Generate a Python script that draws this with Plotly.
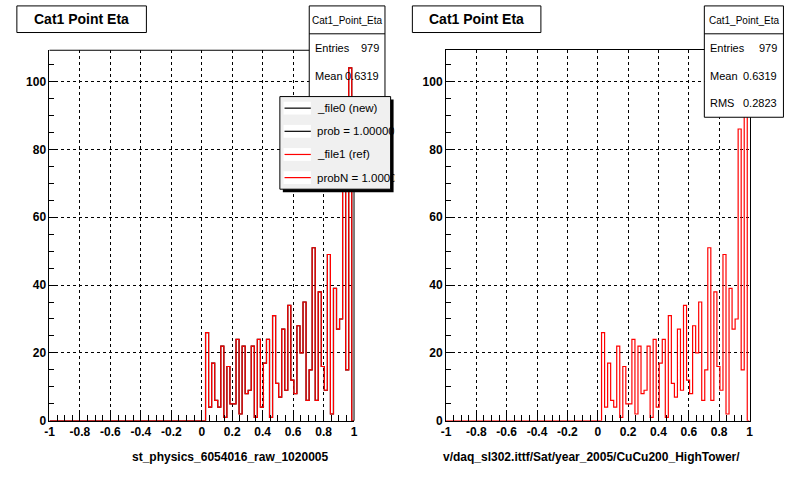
import plotly.graph_objects as go

W, H = 800, 480

# ---------------- data ----------------
bin_low = 0.025
bin_width = 0.02
counts = [26, 4, 17, 6, 4, 22, 1, 16, 5, 5, 24, 2, 22, 8, 9, 22, 1, 24, 4, 17,
          24, 1, 31, 11, 7, 27, 9, 34, 12, 8, 28, 20, 35, 6, 15, 51, 6, 38, 16, 9,
          49, 2, 39, 27, 30, 86, 15, 104]
x_ticks = [-1, -0.8, -0.6, -0.4, -0.2, 0, 0.2, 0.4, 0.6, 0.8, 1]
x_tick_labels = ["-1", "-0.8", "-0.6", "-0.4", "-0.2", "0", "0.2", "0.4", "0.6", "0.8", "1"]
y_ticks = [0, 20, 40, 60, 80, 100]
y_tick_labels = ["0", "20", "40", "60", "80", "100"]
panel_title = "Cat1 Point Eta"
hist_name = "Cat1_Point_Eta"
stat_labels = ["Entries", "Mean", "RMS"]
stat_values = ["979", "0.6319", "0.2823"]
legend_labels = ["_file0 (new)", "prob = 1.000000", "_file1 (ref)", "probN = 1.000000"]
legend_colors = ["black", "black", "red", "red"]
x_titles = ["st_physics_6054016_raw_1020005",
            "v/daq_sl302.ittf/Sat/year_2005/CuCu200_HighTower/"]

# ---------------- derived ----------------
edges = [bin_low + i * bin_width for i in range(len(counts) + 1)]
xs = [-1] + edges + [1]
ys = [0] + counts + [0, 0]
ymax = max(counts) * 1.05

# frame pixel geometry
FL = (45, 353)
FR = (446, 753)
FT, FB = 51, 427


def px(x):
    return x / W


def py(y):
    return 1 - y / H


def xdata(p, frame):
    return -1 + 2 * (p - frame[0]) / (frame[1] - frame[0])


def ydata(p):
    return ymax * (FB - p) / (FB - FT)


BOLD = dict(family="Liberation Sans, Arial, sans-serif", size=12, color="black", weight="bold")
REG = dict(family="Liberation Sans, Arial, sans-serif", size=11, color="black")

fig = go.Figure()
fig.add_trace(go.Scatter(x=xs, y=ys, mode="lines", line=dict(color="black", width=1.2, shape="hv"),
                         xaxis="x", yaxis="y", showlegend=False, hoverinfo="skip"))
fig.add_trace(go.Scatter(x=xs, y=ys, mode="lines", line=dict(color="red", width=1.2, shape="hv"),
                         xaxis="x", yaxis="y", showlegend=False, hoverinfo="skip"))
fig.add_trace(go.Scatter(x=xs, y=ys, mode="lines", line=dict(color="red", width=1.2, shape="hv"),
                         xaxis="x2", yaxis="y2", showlegend=False, hoverinfo="skip"))


def xaxis_cfg(frame, anchor, mirror):
    return dict(domain=[px(frame[0]), px(frame[1])], range=[-1, 1], anchor=anchor,
                tickmode="array", tickvals=x_ticks, ticktext=x_tick_labels,
                ticks="inside", ticklen=11, tickcolor="black", tickwidth=1,
                minor=dict(tickmode="linear", tick0=-1, dtick=0.05, ticks="inside",
                           ticklen=6, tickcolor="black", showgrid=False),
                showline=True, linecolor="black", linewidth=1, mirror=mirror,
                showgrid=True, gridcolor="black", gridwidth=1, griddash="3px,3px",
                zeroline=False, tickfont=BOLD, fixedrange=True)


def yaxis_cfg(anchor, mirror):
    return dict(domain=[py(FB), py(FT)], range=[0, ymax], anchor=anchor,
                tickmode="array", tickvals=y_ticks, ticktext=y_tick_labels,
                ticks="inside", ticklen=9, tickcolor="black", tickwidth=1,
                minor=dict(tickmode="linear", tick0=0, dtick=5, ticks="inside",
                           ticklen=5, tickcolor="black", showgrid=False),
                showline=True, linecolor="black", linewidth=1, mirror=mirror,
                showgrid=True, gridcolor="black", gridwidth=1, griddash="3px,3px",
                zeroline=False, tickfont=BOLD, fixedrange=True)


shapes = []
ann = []

# left panel frame pieces not hidden by stats box
shapes.append(dict(type="line", xref="paper", yref="paper", x0=px(FL[0]), x1=px(307.7),
                   y0=py(FT), y1=py(FT), line=dict(color="black", width=1), layer="above"))
shapes.append(dict(type="line", xref="paper", yref="paper", x0=px(FL[1]), x1=px(FL[1]),
                   y0=py(119), y1=py(FB), line=dict(color="black", width=1), layer="above"))
# left stats box: white fill under the histogram, border above
shapes.append(dict(type="rect", xref="x", yref="y", x0=xdata(307.7, FL), x1=1.05,
                   y0=ydata(119), y1=ymax * 1.02, fillcolor="white", line=dict(width=0),
                   layer="between"))

# title boxes
for (x0, x1) in [(12, 143), (412, 542)]:
    shapes.append(dict(type="rect", xref="paper", yref="paper", x0=px(x0), x1=px(x1),
                       y0=py(33), y1=py(6), fillcolor="white",
                       line=dict(color="black", width=1), layer="above"))
    ann.append(dict(xref="paper", yref="paper", x=px((x0 + x1) / 2), y=py(19.5),
                    text=panel_title, showarrow=False, xanchor="center", yanchor="middle",
                    font=dict(family="Liberation Sans, Arial, sans-serif", size=14,
                              color="black", weight="bold")))

# stats boxes
stat_boxes = [(307.7, 384.3, False, 2), (707.3, 787.3, True, 3)]
for (x0, x1, filled, nrows) in stat_boxes:
    shapes.append(dict(type="rect", xref="paper", yref="paper", x0=px(x0), x1=px(x1),
                       y0=py(119), y1=py(6),
                       fillcolor="white" if filled else "rgba(0,0,0,0)",
                       line=dict(color="black", width=1), layer="above"))
    shapes.append(dict(type="line", xref="paper", yref="paper", x0=px(x0), x1=px(x1),
                       y0=py(34.3), y1=py(34.3), line=dict(color="black", width=1),
                       layer="above"))
    ann.append(dict(xref="paper", yref="paper", x=px((x0 + x1) / 2), y=py(20.5),
                    text=hist_name, showarrow=False, xanchor="center", yanchor="middle",
                    font=dict(family="Liberation Sans, Arial, sans-serif", size=10,
                              color="black")))
    row_y = [49, 77, 104.3]
    for i in range(nrows):
        ann.append(dict(xref="paper", yref="paper", x=px(x0 + 4), y=py(row_y[i]),
                        text=stat_labels[i], showarrow=False, xanchor="left",
                        yanchor="middle", font=REG))
        ann.append(dict(xref="paper", yref="paper", x=px(x1 - 4.5), y=py(row_y[i]),
                        text=stat_values[i], showarrow=False, xanchor="right",
                        yanchor="middle", font=REG))

# legend (left panel)
LG = (278, 390, 98, 192)
shapes.append(dict(type="rect", xref="paper", yref="paper", x0=px(LG[0] + 3), x1=px(LG[1] + 3),
                   y0=py(LG[3] + 3), y1=py(LG[2] + 3), fillcolor="black",
                   line=dict(width=0), layer="above"))
shapes.append(dict(type="rect", xref="paper", yref="paper", x0=px(LG[0]), x1=px(LG[1]),
                   y0=py(LG[3]), y1=py(LG[2]), fillcolor="#f0f0f0",
                   line=dict(color="black", width=1), layer="above"))
row_h = (LG[3] - LG[2]) / len(legend_labels)
for i, (lab, col) in enumerate(zip(legend_labels, legend_colors)):
    cy = LG[2] + row_h * (i + 0.5)
    shapes.append(dict(type="rect", xref="paper", yref="paper", x0=px(281.7), x1=px(309.3),
                       y0=py(cy + 6.5), y1=py(cy - 6.5), fillcolor="white",
                       line=dict(width=0), layer="above"))
    shapes.append(dict(type="line", xref="paper", yref="paper", x0=px(282.7), x1=px(309.3),
                       y0=py(cy), y1=py(cy), line=dict(color=col, width=1.2), layer="above"))
    ann.append(dict(xref="paper", yref="paper", x=px(313.5), y=py(cy), text=lab,
                    showarrow=False, xanchor="left", yanchor="middle",
                    font=dict(family="Liberation Sans, Arial, sans-serif", size=11.5,
                              color="black")))
# clip overflowing legend text at the pad edge
ann.append(dict(xref="paper", yref="paper", x=px(393.5), y=py((LG[2] + LG[3] + 6) / 2),
                text=" ", showarrow=False, xanchor="left", yanchor="middle",
                width=24, height=100, bgcolor="white", borderpad=0,
                font=dict(size=4)))

# x-axis titles
for (frame, t, xr) in [(FL, x_titles[0], 329), (FR, x_titles[1], 745)]:
    ann.append(dict(xref="paper", yref="paper", x=px(xr), y=py(463.5), text=t,
                    showarrow=False, xanchor="right", yanchor="middle", font=BOLD))

fig.update_layout(
    width=W, height=H, margin=dict(l=0, r=0, t=0, b=0),
    paper_bgcolor="white", plot_bgcolor="white", showlegend=False,
    xaxis=xaxis_cfg(FL, "y", False), yaxis=yaxis_cfg("x", False),
    xaxis2=xaxis_cfg(FR, "y2", True), yaxis2=yaxis_cfg("x2", True),
    shapes=shapes, annotations=ann,
)

fig.write_html("out.html", config={"displayModeBar": False},
               post_script="document.documentElement.style.margin='0';"
                           "document.body.style.margin='0';document.body.style.padding='0';"
                           "document.documentElement.style.overflow='hidden';"
                           "document.body.style.overflow='hidden';")
